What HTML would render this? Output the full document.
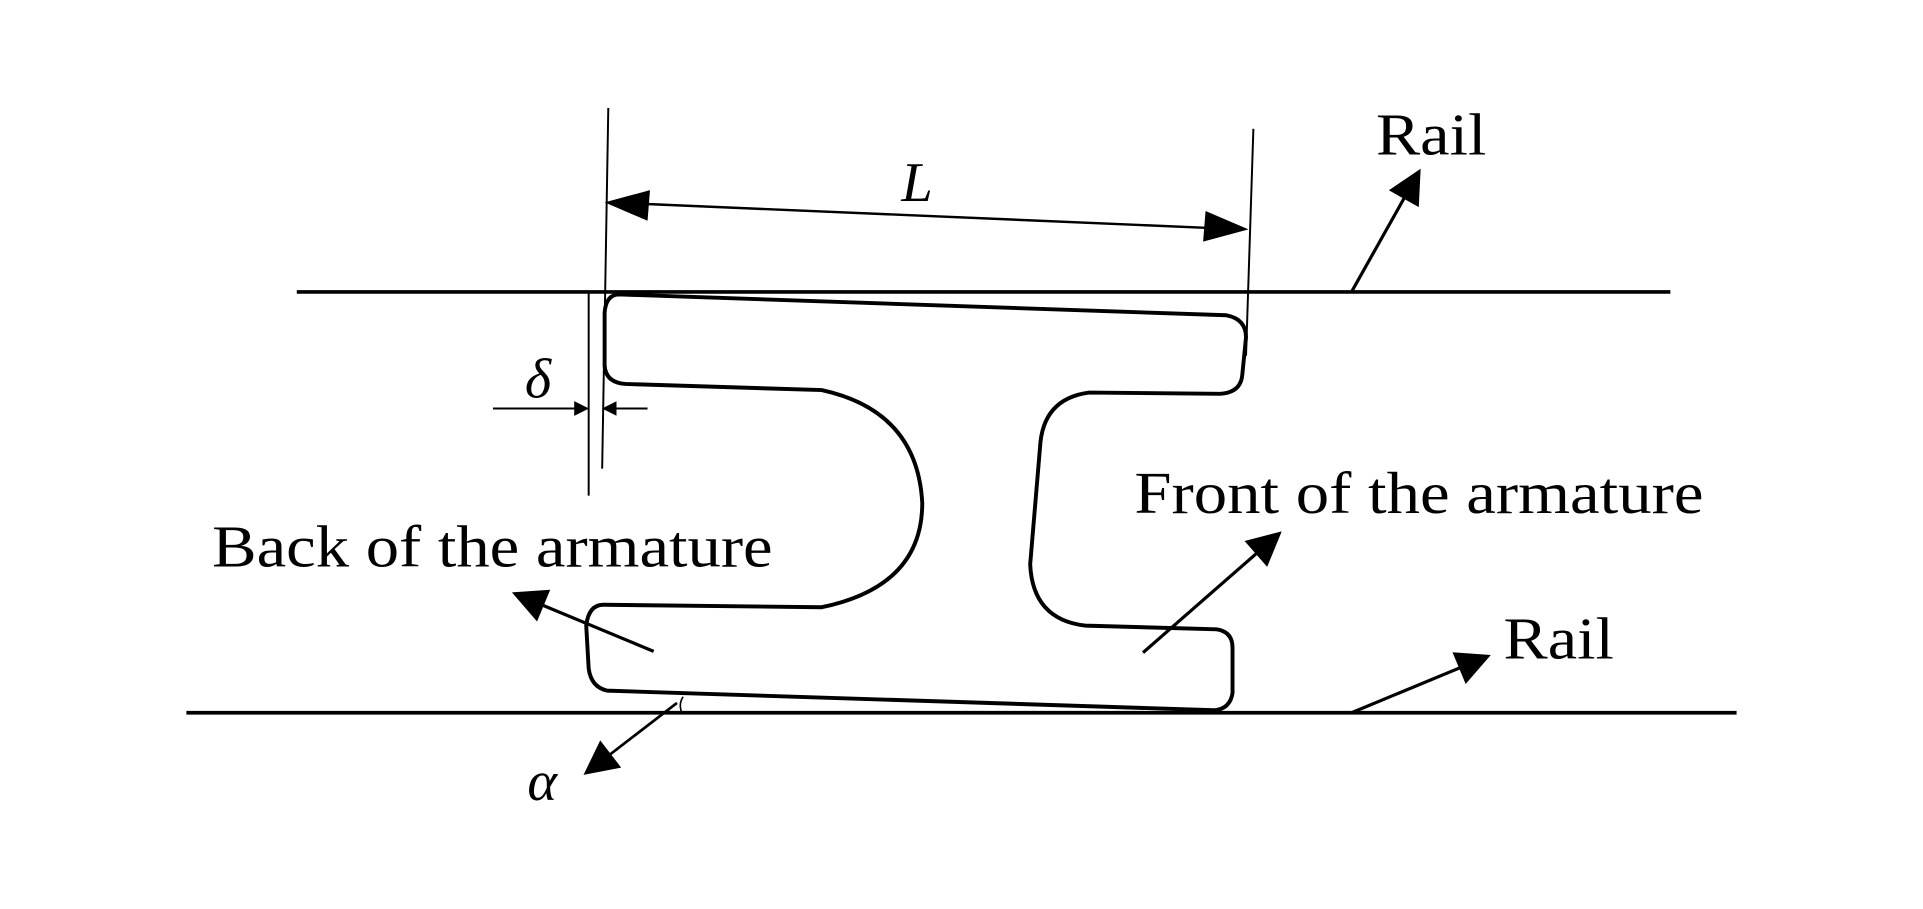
<!DOCTYPE html>
<html><head><meta charset="utf-8"><style>html,body{margin:0;padding:0;background:#fff;}svg{display:block;}</style></head>
<body>
<svg width="1923" height="909" viewBox="0 0 1568 741" preserveAspectRatio="none" xmlns="http://www.w3.org/2000/svg">
<defs>
<marker id="ah" viewBox="0 0 10 10" refX="9" refY="5" markerWidth="12" markerHeight="12" markerUnits="userSpaceOnUse" orient="auto"><path d="M0,0 L10,5 L0,10 z" fill="#000"/></marker>
<marker id="ab" viewBox="0 0 10 10" refX="9" refY="5" markerWidth="36" markerHeight="28" markerUnits="userSpaceOnUse" orient="auto"><path d="M0,0 L10,5 L0,10 z" fill="#000"/></marker>
</defs>
<g stroke="#000" fill="none">
<line x1="242" y1="238" x2="1362" y2="238" stroke-width="3"/>
<line x1="152" y1="581" x2="1416" y2="581" stroke-width="3"/>
<line x1="496" y1="88" x2="491" y2="382" stroke-width="1.6"/>
<line x1="480" y1="238" x2="480" y2="404" stroke-width="1.6"/>
<line x1="1022" y1="105" x2="1016" y2="290" stroke-width="1.6"/>
<line x1="402" y1="333" x2="479" y2="333" stroke-width="1.6" marker-end="url(#ah)"/>
<line x1="528" y1="333" x2="492" y2="333" stroke-width="1.6" marker-end="url(#ah)"/>
<line x1="520" y1="166" x2="990" y2="186" stroke-width="2"/>
<path d="M493,165 L530,155 L528,180 z" fill="#000" stroke="none"/>
<path d="M1018,187 L981,197 L983,172 z" fill="#000" stroke="none"/>
<path d="M505,240 L1000,257 Q1016,260 1016,275 L1013,305 Q1012,320 995,321 L888,320 Q850,325 848,365 L840,460 Q842,505 885,510 L992,513 Q1005,515 1005,528 L1005,565 Q1003,578 990,579 L495,563 Q482,560 480,545 L478,510 Q480,493 492,493 L670,495 Q752,478 752,410 Q748,335 670,318 L510,313 Q494,312 493,298 L493,255 Q494,240 505,240 z" stroke-width="3.2" stroke-linejoin="round"/>
<line x1="552" y1="573" x2="478" y2="630" stroke-width="2.2" marker-end="url(#ab)"/>
<path d="M557,568 Q553,574 556,581" stroke-width="1.3"/>
<line x1="533" y1="531" x2="420" y2="484" stroke-width="2.6" marker-end="url(#ab)"/>
<line x1="932" y1="532" x2="1043" y2="435" stroke-width="2.6" marker-end="url(#ab)"/>
<line x1="1102" y1="238" x2="1157" y2="140" stroke-width="2.6" marker-end="url(#ab)"/>
<line x1="1102" y1="581" x2="1213" y2="535" stroke-width="2.6" marker-end="url(#ab)"/>
</g>
<g font-family="'Liberation Serif', serif" fill="#000">
<text x="1122" y="126" font-size="48" textLength="90" lengthAdjust="spacingAndGlyphs">Rail</text>
<text x="1226" y="537" font-size="48" textLength="90" lengthAdjust="spacingAndGlyphs">Rail</text>
<text x="925" y="418" font-size="48" textLength="464" lengthAdjust="spacingAndGlyphs">Front of the armature</text>
<text x="173" y="462" font-size="48" textLength="457" lengthAdjust="spacingAndGlyphs">Back of the armature</text>
<text x="735" y="164" font-size="46" font-style="italic">L</text>
<text x="428" y="324" font-size="46" font-style="italic">δ</text>
<text x="430" y="652" font-size="46" font-style="italic">α</text>
</g>
</svg>
</body></html>
